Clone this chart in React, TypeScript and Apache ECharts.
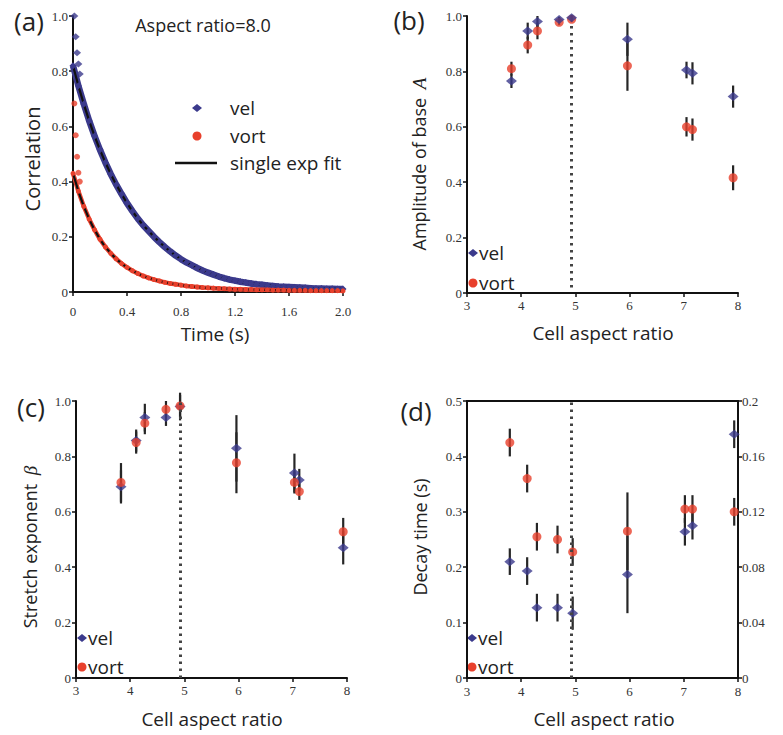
import { useEffect, useRef } from "react";
import * as echarts from "echarts";

// ---------- Panel (a): correlation vs time, aspect ratio 8.0 ----------
const timeEarly = [0.01, 0.02, 0.03, 0.04, 0.05];
const velEarly = [1.0, 0.925, 0.867, 0.826, 0.79];
const vortEarly = [0.683, 0.568, 0.49, 0.432, 0.4];
const timeGrid = [
  0, 0.04, 0.08, 0.12, 0.16, 0.2, 0.24, 0.28, 0.32, 0.36, 0.4, 0.44, 0.48, 0.52, 0.56, 0.6, 0.64,
  0.68, 0.72, 0.76, 0.8, 0.84, 0.88, 0.92, 0.96, 1.0, 1.04, 1.08, 1.12, 1.16, 1.2, 1.24, 1.28, 1.32,
  1.36, 1.4, 1.44, 1.48, 1.52, 1.56, 1.6, 1.64, 1.68, 1.72, 1.76, 1.8, 1.84, 1.88, 1.92, 1.96, 2.0,
];
const velFit = [
  0.82, 0.747, 0.681, 0.62, 0.565, 0.515, 0.469, 0.427, 0.389, 0.355, 0.322, 0.293, 0.266, 0.242,
  0.221, 0.2, 0.181, 0.163, 0.147, 0.132, 0.119, 0.107, 0.097, 0.087, 0.078, 0.07, 0.063, 0.056,
  0.05, 0.045, 0.041, 0.037, 0.034, 0.031, 0.028, 0.026, 0.024, 0.022, 0.02, 0.019, 0.018, 0.017,
  0.016, 0.015, 0.014, 0.013, 0.013, 0.012, 0.012, 0.011, 0.011,
];
const vortFit = [
  0.43, 0.365, 0.31, 0.264, 0.225, 0.191, 0.163, 0.14, 0.12, 0.103, 0.089, 0.077, 0.067, 0.058,
  0.051, 0.045, 0.04, 0.035, 0.031, 0.028, 0.025, 0.022, 0.02, 0.018, 0.016, 0.015, 0.014, 0.013,
  0.012, 0.011, 0.01, 0.01, 0.009, 0.009, 0.008, 0.008, 0.008, 0.007, 0.007, 0.007, 0.006, 0.006,
  0.006, 0.006, 0.005, 0.005, 0.005, 0.005, 0.005, 0.005, 0.004,
];

// ---------- Panel (b): amplitude of base A ----------
const ratioB = [3.82, 4.12, 4.3, 4.7, 4.93, 5.96, 7.05, 7.16, 7.91];
const ampVel = [0.765, 0.946, 0.98, 0.987, 0.994, 0.916, 0.805, 0.793, 0.709];
const ampVelErr = [0.025, 0.03, 0.02, 0.01, 0.01, 0.06, 0.03, 0.04, 0.04];
const ampVort = [0.81, 0.895, 0.946, 0.977, 0.988, 0.82, 0.6, 0.59, 0.416];
const ampVortErr = [0.025, 0.03, 0.03, 0.01, 0.01, 0.09, 0.035, 0.04, 0.045];

// ---------- Panel (c): stretch exponent beta ----------
const ratioC = [3.83, 4.11, 4.27, 4.66, 4.92, 5.96, 7.03, 7.12, 7.93];
const betaVel = [0.69, 0.857, 0.94, 0.94, 0.98, 0.829, 0.74, 0.715, 0.47];
const betaVelErr = [0.06, 0.04, 0.05, 0.03, 0.05, 0.12, 0.07, 0.04, 0.06];
const betaVort = [0.706, 0.85, 0.92, 0.97, 0.982, 0.777, 0.706, 0.673, 0.528];
const betaVortErr = [0.07, 0.04, 0.04, 0.03, 0.04, 0.11, 0.04, 0.03, 0.05];

// ---------- Panel (d): decay time (vel left axis, vort right axis) ----------
const ratioD = [3.79, 4.11, 4.29, 4.67, 4.95, 5.96, 7.02, 7.16, 7.93];
const tauVel = [0.21, 0.193, 0.127, 0.127, 0.117, 0.187, 0.264, 0.275, 0.44];
const tauVelErr = [0.024, 0.025, 0.025, 0.025, 0.03, 0.07, 0.025, 0.025, 0.025];
const tauVort = [0.17, 0.144, 0.102, 0.1, 0.091, 0.106, 0.122, 0.122, 0.12];
const tauVortErr = [0.01, 0.01, 0.01, 0.01, 0.01, 0.028, 0.01, 0.01, 0.01];

const cutoffRatio = 4.93;

const VEL = "#3b3a8c";
const VORT = "#e8402c";
const SANS = '"Open Sans", sans-serif';
const SERIF = '"Liberation Serif", serif';

const errRender = (_p: any, api: any) => {
  const x = api.value(0);
  const y = api.value(1);
  const e = api.value(2);
  const a = api.coord([x, y - e]);
  const b = api.coord([x, y + e]);
  return {
    type: "line",
    shape: { x1: a[0], y1: a[1], x2: b[0], y2: b[1] },
    style: { stroke: "#262626", lineWidth: 2.2 },
  };
};

const fmt1 = (v: number) => (v === 0 ? "0" : v.toFixed(1));
const fmtInt = (v: number) => String(Math.round(v));
const fmt2 = (v: number) => String(parseFloat(v.toFixed(2)));

const axisBase = (extra: any = {}) => ({
  type: "value",
  axisLine: { show: true, onZero: false, lineStyle: { color: "#111", width: 2 } },
  axisTick: { show: true, length: 4, lineStyle: { color: "#111", width: 1.5 } },
  splitLine: { show: false },
  ...extra,
  axisLabel: { fontFamily: SERIF, fontSize: 13, color: "#333", ...(extra.axisLabel || {}) },
});

const dotted = { color: "#444", width: 3, type: [2.5, 4.5] };
const cutLine = (y0: number, y1: number) => ({
  silent: true,
  symbol: ["none", "none"],
  label: { show: false },
  lineStyle: dotted,
  data: [[{ coord: [cutoffRatio, y0] }, { coord: [cutoffRatio, y1] }]],
});

const pairs = (xs: number[], ys: number[]) => xs.map((x, i) => [x, ys[i]]);
const triples = (xs: number[], ys: number[], es: number[]) => xs.map((x, i) => [x, ys[i], es[i]]);

const txt = (text: string, x: number, y: number, size: number, extra: any = {}) => ({
  type: "text",
  x,
  y,
  silent: true,
  style: {
    text,
    fontFamily: SANS,
    fontSize: size,
    fill: "#222",
    align: "left",
    verticalAlign: "middle",
    ...extra,
  },
});
const vtxt = (text: string, x: number, y: number, size: number, rich?: any) => ({
  type: "text",
  x,
  y,
  rotation: Math.PI / 2,
  silent: true,
  style: {
    text,
    fontFamily: SANS,
    fontSize: size,
    fill: "#222",
    align: "center",
    verticalAlign: "middle",
    ...(rich ? { rich } : {}),
  },
});
const diamond = (x: number, y: number) => ({
  type: "polygon",
  silent: true,
  shape: { points: [[x - 5, y], [x, y - 4], [x + 5, y], [x, y + 4]] },
  style: { fill: VEL },
});
const dot = (x: number, y: number) => ({
  type: "circle",
  silent: true,
  shape: { cx: x, cy: y, r: 4.5 },
  style: { fill: VORT },
});
const legend = (mx: number, tx: number, yv: number, yo: number) => [
  diamond(mx, yv),
  txt("vel", tx, yv, 19),
  dot(mx, yo),
  txt("vort", tx, yo, 19),
];
const italicRich = {
  i: { fontFamily: SERIF, fontStyle: "italic", fontSize: 19, fill: "#222", padding: [0, 0, 0, 4] },
};

export default function App() {
  const ref = useRef<HTMLDivElement>(null);
  useEffect(() => {
    if (!ref.current) return;
    const chart = echarts.init(ref.current, undefined, { renderer: "svg" });

    const option: any = {
      animation: false,
      backgroundColor: "#fff",
      grid: [
        { left: 73, top: 16, width: 270, height: 276 },
        { left: 467, top: 16, width: 271, height: 277 },
        { left: 76, top: 401, width: 271, height: 277 },
        { left: 467, top: 401, width: 271, height: 277 },
      ],
      xAxis: [
        axisBase({ gridIndex: 0, min: 0, max: 2, interval: 0.4, axisLabel: { formatter: fmt1, margin: 13 } }),
        axisBase({ gridIndex: 1, min: 3, max: 8, interval: 1, axisLabel: { formatter: fmtInt, margin: 6 } }),
        axisBase({ gridIndex: 2, min: 3, max: 8, interval: 1, axisLabel: { formatter: fmtInt, margin: 6 } }),
        axisBase({ gridIndex: 3, min: 3, max: 8, interval: 1, axisLabel: { formatter: fmtInt, margin: 7 } }),
        axisBase({
          gridIndex: 3, min: 3, max: 8, position: "top",
          axisTick: { show: false }, axisLabel: { show: false },
        }),
      ],
      yAxis: [
        axisBase({ gridIndex: 0, min: 0, max: 1, interval: 0.2, axisLabel: { formatter: fmt1, margin: 5 } }),
        axisBase({ gridIndex: 1, min: 0, max: 1, interval: 0.2, axisLabel: { formatter: fmt1, margin: 5 } }),
        axisBase({ gridIndex: 2, min: 0, max: 1, interval: 0.2, axisLabel: { formatter: fmt1, margin: 5 } }),
        axisBase({ gridIndex: 3, min: 0, max: 0.5, interval: 0.1, axisLabel: { formatter: fmt1, margin: 5 } }),
        axisBase({
          gridIndex: 3, min: 0, max: 0.2, interval: 0.04, position: "right",
          axisLabel: { formatter: fmt2, margin: 4 },
        }),
      ],
      series: [
        // (a) data bands
        {
          type: "line", name: "vel", xAxisIndex: 0, yAxisIndex: 0, data: pairs(timeGrid, velFit),
          symbol: "diamond", symbolSize: 7, showAllSymbol: true,
          lineStyle: { color: VEL, width: 6.5 }, itemStyle: { color: VEL },
        },
        {
          type: "line", name: "vort", xAxisIndex: 0, yAxisIndex: 0, data: pairs(timeGrid, vortFit),
          symbol: "circle", symbolSize: 5, showAllSymbol: true,
          lineStyle: { color: VORT, width: 4.5 }, itemStyle: { color: VORT },
        },
        {
          type: "scatter", name: "vel", xAxisIndex: 0, yAxisIndex: 0, data: pairs(timeEarly, velEarly),
          symbol: "diamond", symbolSize: [8, 7], itemStyle: { color: VEL },
        },
        {
          type: "scatter", name: "vort", xAxisIndex: 0, yAxisIndex: 0, data: pairs(timeEarly, vortEarly),
          symbol: "circle", symbolSize: 6, itemStyle: { color: VORT },
        },
        // (a) fits
        {
          type: "line", name: "single exp fit", xAxisIndex: 0, yAxisIndex: 0,
          data: pairs(timeGrid, velFit), symbol: "none", lineStyle: { color: "#111", width: 2.2 },
        },
        {
          type: "line", name: "single exp fit", xAxisIndex: 0, yAxisIndex: 0,
          data: pairs(timeGrid, vortFit), symbol: "none", lineStyle: { color: "#111", width: 2.2 },
        },
        // (b)
        { type: "custom", xAxisIndex: 1, yAxisIndex: 1, renderItem: errRender, encode: { x: 0, y: 1 }, data: triples(ratioB, ampVel, ampVelErr), z: 1 },
        { type: "custom", xAxisIndex: 1, yAxisIndex: 1, renderItem: errRender, encode: { x: 0, y: 1 }, data: triples(ratioB, ampVort, ampVortErr), z: 1 },
        {
          type: "scatter", name: "vort", xAxisIndex: 1, yAxisIndex: 1, data: pairs(ratioB, ampVort),
          symbol: "circle", symbolSize: 9, itemStyle: { color: VORT }, z: 3,
          markLine: cutLine(0.02, 0.975),
        },
        {
          type: "scatter", name: "vel", xAxisIndex: 1, yAxisIndex: 1, data: pairs(ratioB, ampVel),
          symbol: "diamond", symbolSize: [11, 9], itemStyle: { color: VEL }, z: 3,
        },
        // (c)
        { type: "custom", xAxisIndex: 2, yAxisIndex: 2, renderItem: errRender, encode: { x: 0, y: 1 }, data: triples(ratioC, betaVel, betaVelErr), z: 1 },
        { type: "custom", xAxisIndex: 2, yAxisIndex: 2, renderItem: errRender, encode: { x: 0, y: 1 }, data: triples(ratioC, betaVort, betaVortErr), z: 1 },
        {
          type: "scatter", name: "vel", xAxisIndex: 2, yAxisIndex: 2, data: pairs(ratioC, betaVel),
          symbol: "diamond", symbolSize: [11, 9], itemStyle: { color: VEL }, z: 3,
          markLine: cutLine(0, 1),
        },
        {
          type: "scatter", name: "vort", xAxisIndex: 2, yAxisIndex: 2, data: pairs(ratioC, betaVort),
          symbol: "circle", symbolSize: 9, itemStyle: { color: VORT }, z: 3,
        },
        // (d)
        { type: "custom", xAxisIndex: 3, yAxisIndex: 3, renderItem: errRender, encode: { x: 0, y: 1 }, data: triples(ratioD, tauVel, tauVelErr), z: 1 },
        { type: "custom", xAxisIndex: 3, yAxisIndex: 4, renderItem: errRender, encode: { x: 0, y: 1 }, data: triples(ratioD, tauVort, tauVortErr), z: 1 },
        {
          type: "scatter", name: "vel", xAxisIndex: 3, yAxisIndex: 3, data: pairs(ratioD, tauVel),
          symbol: "diamond", symbolSize: [11, 9], itemStyle: { color: VEL }, z: 3,
          markLine: cutLine(0, 0.5),
        },
        {
          type: "scatter", name: "vort", xAxisIndex: 3, yAxisIndex: 4, data: pairs(ratioD, tauVort),
          symbol: "circle", symbolSize: 9, itemStyle: { color: VORT }, z: 3,
        },
      ],
      graphic: [
        // panel labels
        txt("(a)", 29, 21, 26, { align: "center" }),
        txt("(b)", 409, 20, 26, { align: "center" }),
        txt("(c)", 31, 407, 26, { align: "center" }),
        txt("(d)", 416, 411, 26, { align: "center" }),
        // (a) annotations and legend
        txt("Aspect ratio=8.0", 203, 25, 18, { align: "center" }),
        diamond(197, 108),
        txt("vel", 230, 108, 19),
        dot(197, 136),
        txt("vort", 230, 136, 19),
        { type: "line", silent: true, shape: { x1: 175, y1: 163, x2: 217, y2: 163 }, style: { stroke: "#111", lineWidth: 2.5 } },
        txt("single exp fit", 230, 163, 19),
        // legends (b), (c), (d)
        ...legend(473, 479, 253, 283),
        ...legend(82, 88, 638, 667),
        ...legend(472, 478, 638, 667),
        // axis titles
        vtxt("Correlation", 32, 159, 20),
        txt("Time (s)", 215, 334, 19, { align: "center" }),
        txt("Cell aspect ratio", 603, 333, 19, { align: "center" }),
        txt("Cell aspect ratio", 212, 719, 19, { align: "center" }),
        txt("Cell aspect ratio", 604, 719, 19, { align: "center" }),
        vtxt("Amplitude of base {i|A}", 419, 164, 18, italicRich),
        vtxt("Stretch exponent {i|β}", 30, 547, 18, italicRich),
        vtxt("Decay time (s)", 420, 537, 18),
      ],
    };

    chart.setOption(option);
    return () => chart.dispose();
  }, []);

  return (
    <div
      ref={ref}
      style={{ position: "fixed", left: 0, top: 0, width: 783, height: 735, background: "#fff" }}
    />
  );
}
